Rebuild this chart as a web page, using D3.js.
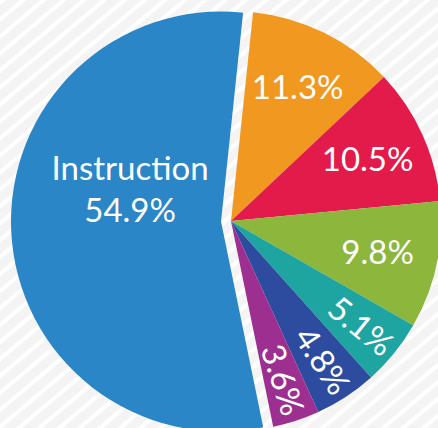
<!DOCTYPE html>
<html>
<head>
<meta charset="utf-8">
<script src="https://cdn.jsdelivr.net/npm/d3@7"></script>
<style>
  html, body { margin: 0; padding: 0; background: #f4f4f4; }
  svg { display: block; }
</style>
</head>
<body>
<svg id="chart" width="438" height="428"></svg>
<script>
const categories = ["Instruction", "Slice 2", "Slice 3", "Slice 4", "Slice 5", "Slice 6", "Slice 7"]
const values = [54.9, 11.3, 10.5, 9.8, 5.1, 4.8, 3.6]
const labels = ["54.9%", "11.3%", "10.5%", "9.8%", "5.1%", "4.8%", "3.6%"]
const colors = ["#2a86c6", "#f0981f", "#e31b4b", "#8cb63c", "#1fa5a1", "#2e4c9f", "#9c2f90"]

let svg = d3.select("#chart")
let w = +svg.attr("width")
let h = +svg.attr("height")

let defs = svg.append("defs")
let pat = defs.append("pattern")
  .attr("id", "stripes")
  .attr("patternUnits", "userSpaceOnUse")
  .attr("width", 13)
  .attr("height", 13)
  .attr("patternTransform", "rotate(-40)")
pat.append("rect").attr("width", 13).attr("height", 13).attr("fill", "#f4f4f4")
pat.append("rect").attr("width", 13).attr("height", 4).attr("fill", "#ffffff")

svg.append("rect").attr("width", w).attr("height", h).attr("fill", "url(#stripes)")

let cx = 231, cy = 221, radius = 210
let startDeg = 168.4

let pie = d3.pie().sort(null)
  .startAngle(startDeg * Math.PI / 180)
  .endAngle(startDeg * Math.PI / 180 + 2 * Math.PI)
let arcs = pie(values)

let arc = d3.arc().innerRadius(0).outerRadius(radius)
let labelArc = d3.arc().innerRadius(150).outerRadius(150)
let smallArc = d3.arc().innerRadius(167).outerRadius(167)

let g = svg.append("g").attr("transform", "translate(" + cx + "," + cy + ")")

let explode = (d, i) => {
  if (i != 0) return [0, 0]
  let a = (d.startAngle + d.endAngle) / 2
  return [Math.sin(a) * 10, -Math.cos(a) * 10]
}

g.selectAll("path")
  .data(arcs)
  .enter()
  .append("path")
    .attr("d", arc)
    .attr("fill", (d, i) => colors[i])
    .attr("transform", (d, i) => "translate(" + explode(d, i) + ")")

let lbl = g.selectAll("g.lbl")
  .data(arcs)
  .enter()
  .append("g")
    .attr("class", "lbl")
    .attr("transform", (d, i) => {
      let mid = (d.startAngle + d.endAngle) / 2 * 180 / Math.PI
      if (i == 0) {
        let off = explode(d, i)
        let c = d3.arc().innerRadius(91).outerRadius(91).centroid(d)
        return "translate(" + (c[0] + off[0]) + "," + (c[1] + off[1] - 44) + ")"
      }
      if (values[i] < 6) {
        return "translate(" + smallArc.centroid(d) + ") rotate(" + (mid - 90) + ")"
      }
      return "translate(" + labelArc.centroid(d) + ")"
    })

lbl.each(function (d, i) {
  let t = d3.select(this).append("text")
    .attr("text-anchor", "middle")
    .attr("fill", "#ffffff")
    .attr("font-family", "Lato, 'Open Sans', sans-serif")
    .attr("font-size", "33px")
  if (i == 0) {
    t.append("tspan").attr("x", 0).attr("y", -2).text(categories[i])
    t.append("tspan").attr("x", 0).attr("y", 40).text(labels[i])
  } else {
    t.attr("dy", "0.36em").text(labels[i])
  }
})
</script>
</body>
</html>
